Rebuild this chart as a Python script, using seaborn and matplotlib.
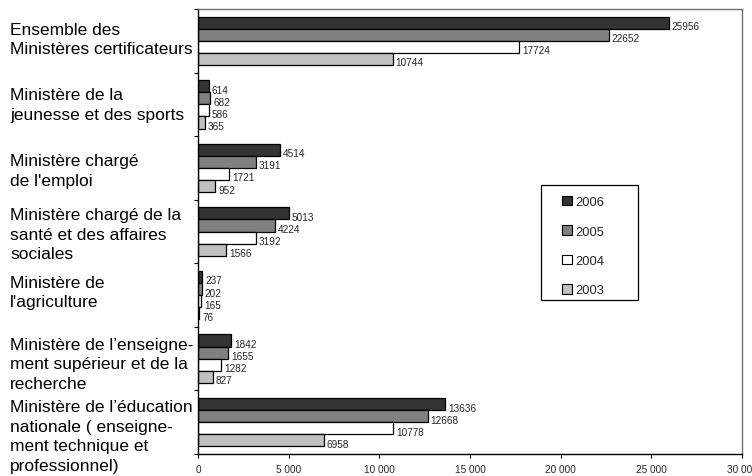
import matplotlib
matplotlib.use("Agg")
import matplotlib.pyplot as plt
import matplotlib.transforms as mtransforms
from matplotlib.patches import Rectangle
from matplotlib.ticker import FuncFormatter
import seaborn as sns
import pandas as pd

categories = [
    "Ensemble des\nMinistères certificateurs",
    "Ministère de la\njeunesse et des sports",
    "Ministère chargé\nde l'emploi",
    "Ministère chargé de la\nsanté et des affaires\nsociales",
    "Ministère de\nl'agriculture",
    "Ministère de l’enseigne-\nment supérieur et de la\nrecherche",
    "Ministère de l’éducation\nnationale ( enseigne-\nment technique et\nprofessionnel)",
]
years = ["2006", "2005", "2004", "2003"]
v2006 = [25956, 614, 4514, 5013, 237, 1842, 13636]
v2005 = [22652, 682, 3191, 4224, 202, 1655, 12668]
v2004 = [17724, 586, 1721, 3192, 165, 1282, 10778]
v2003 = [10744, 365, 952, 1566, 76, 827, 6958]
xticks = [0, 5000, 10000, 15000, 20000, 25000, 30000]

colors = ["#333333", "#808080", "#ffffff", "#c0c0c0"]

rows = []
for y, vals in zip(years, [v2006, v2005, v2004, v2003]):
    for c, v in zip(categories, vals):
        rows.append({"cat": c, "year": y, "val": v})
df = pd.DataFrame(rows)

sns.set_theme(style="white")
plt.rcParams["font.family"] = ["Liberation Sans", "DejaVu Sans"]

fig = plt.figure(figsize=(7.52, 4.77), dpi=100)
ax = fig.add_axes([198 / 752, 1 - 455 / 477, (742 - 198) / 752, (455 - 10) / 477])

sns.barplot(data=df, y="cat", x="val", hue="year", order=categories,
            hue_order=years, palette=colors, orient="h", width=0.76,
            edgecolor="black", linewidth=0.9, saturation=1, ax=ax)

narrow = ["Liberation Sans Narrow", "Liberation Sans", "DejaVu Sans"]
for cont in ax.containers:
    lbls = ax.bar_label(cont, labels=[f"{int(v)}" for v in cont.datavalues],
                        padding=2, fontsize=7.2)
    for t in lbls:
        t.set_family(narrow)
        t.set_va("center")
        t.xyann = (2, -2.5)

ax.set_xlim(0, 30000)
ax.set_ylim(len(categories) - 0.5, -0.5)
ax.set_xticks(xticks)
ax.xaxis.set_major_formatter(FuncFormatter(lambda v, p: f"{int(v):,}".replace(",", " ")))
for t in ax.get_xticklabels():
    t.set_family(narrow)
    t.set_fontsize(7.2)
ax.set_yticks([i - 0.5 for i in range(len(categories) + 1)])
ax.set_yticklabels([])
ax.tick_params(axis="both", which="major", direction="out", length=3, width=0.8,
               color="black", left=True, bottom=True, pad=4)
ax.set_xlabel("")
ax.set_ylabel("")
ax.grid(False)

for s in ["left", "bottom"]:
    ax.spines[s].set_color("black")
    ax.spines[s].set_linewidth(1.0)
for s in ["top", "right"]:
    ax.spines[s].set_color("#707070")
    ax.spines[s].set_linewidth(1.0)

trans = mtransforms.blended_transform_factory(fig.transFigure, ax.transData)
label_shift = [-0.03, 0.0, 0.04, 0.04, -0.05, 0.08, 0.22]
for i, c in enumerate(categories):
    ax.text(10 / 752, i + label_shift[i], c, transform=trans, ha="left",
            va="center", fontsize=12.5, linespacing=1.38, color="black")

# legend box
ax.add_patch(Rectangle((541 / 752, 1 - 301 / 477), 97 / 752, 115 / 477,
                       transform=fig.transFigure, facecolor="white",
                       edgecolor="black", linewidth=0.9, zorder=5,
                       clip_on=False))
leg = ax.legend(loc="upper left", bbox_to_anchor=(562 / 752, 1 - 197 / 477),
                bbox_transform=fig.transFigure, frameon=False,
                fontsize=9.3, handlelength=0.75, handleheight=0.75,
                labelspacing=1.33, borderpad=0, handletextpad=0.25,
                borderaxespad=0)
leg.set_zorder(6)
for t in leg.get_texts():
    t.set_family(narrow)
for h in leg.legend_handles:
    h.set_edgecolor("black")
    h.set_linewidth(0.8)
leg.set_title(None)

fig.savefig("out.png", dpi=100)
